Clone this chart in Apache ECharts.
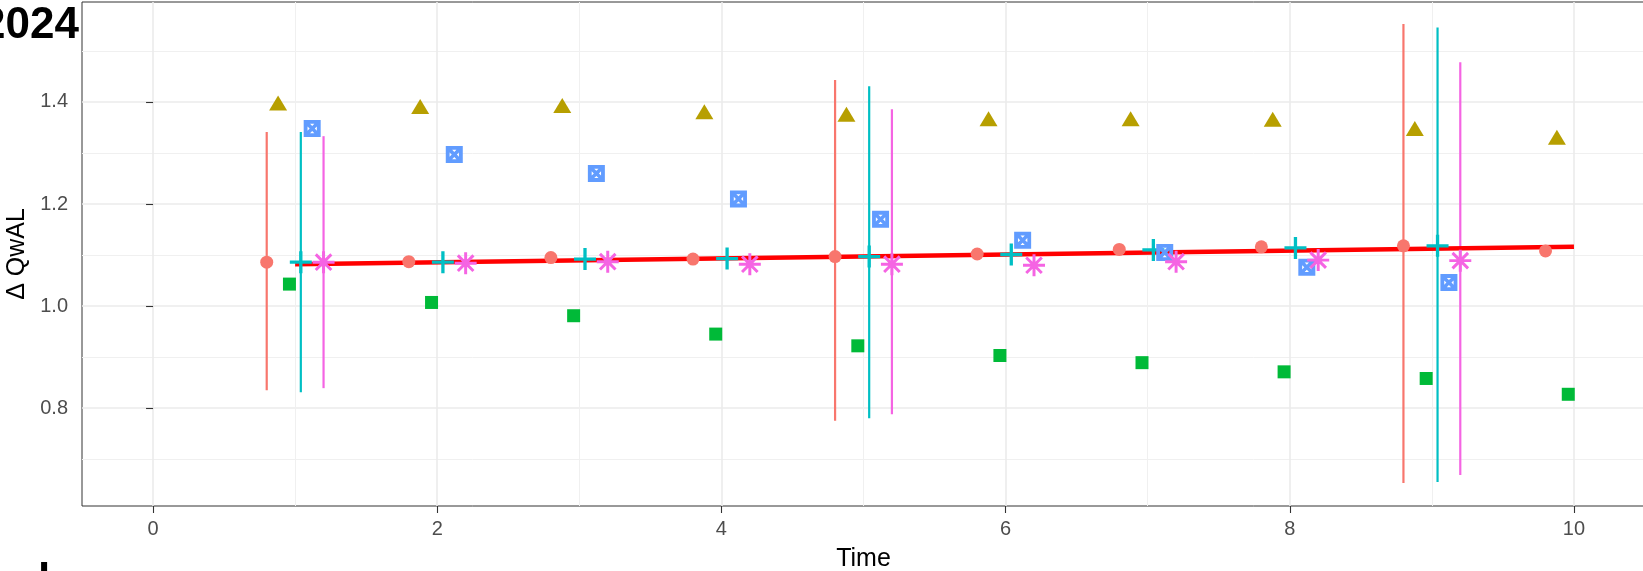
<!DOCTYPE html>
<html lang="en">
<head>
<meta charset="UTF-8">
<title>Δ QwAL over time</title>
<style>
  html, body { margin: 0; padding: 0; background: #fff; }
  #chart { width: 1643px; height: 571px; }
</style>
</head>
<body>
<div id="chart"></div>
<script src="https://cdn.jsdelivr.net/npm/echarts@6/dist/echarts.min.js"></script>
<script>
// time points
var times = [1, 2, 3, 4, 5, 6, 7, 8, 9, 10];
// six groups (null = not drawn)
var circleVals = [1.086, 1.087, 1.095, 1.092, 1.097, 1.102, 1.111, 1.116, 1.118, 1.108];
var triangleVals = [1.398, 1.391, 1.393, 1.381, 1.376, 1.367, 1.367, 1.366, 1.348, 1.331];
var squareVals = [1.043, 1.007, 0.981, 0.945, 0.922, 0.903, 0.889, 0.871, 0.858, 0.827];
var plusVals = [1.086, 1.086, 1.092, 1.093, 1.097, 1.101, 1.110, 1.114, 1.118, null];
var boxVals = [1.348, 1.297, 1.260, 1.210, 1.170, 1.129, 1.105, 1.076, 1.046, null];
var starVals = [1.086, 1.084, 1.087, 1.082, 1.082, 1.080, 1.087, 1.090, 1.089, null];

// error bars (only at some times)
var errTimes = [1, 5, 9];
var circleLow = [0.835, 0.775, 0.653];
var circleHigh = [1.341, 1.443, 1.553];
var plusLow = [0.831, 0.780, 0.655];
var plusHigh = [1.341, 1.431, 1.546];
var starLow = [0.839, 0.788, 0.669];
var starHigh = [1.333, 1.386, 1.478];

// fitted line
var fitTimes = [1, 10];
var fitVals = [1.082, 1.116];

// axis ticks
var xMajor = [0, 2, 4, 6, 8, 10];
var xMinor = [1, 3, 5, 7, 9];
var yMajor = [0.8, 1.0, 1.2, 1.4];
var yMinor = [0.7, 0.9, 1.1, 1.3, 1.5];

// dodge offsets per group
var dodge = [-0.2, -0.12, -0.04, 0.04, 0.12, 0.2];

// symbols
function bar(cx, cy, ang, L, w) {
    var dx = Math.cos(ang), dy = Math.sin(ang);
    var nx = -dy, ny = dx;
    var p = [
        [cx + L * dx + w * nx, cy + L * dy + w * ny],
        [cx + L * dx - w * nx, cy + L * dy - w * ny],
        [cx - L * dx - w * nx, cy - L * dy - w * ny],
        [cx - L * dx + w * nx, cy - L * dy + w * ny]
    ];
    return 'M' + p.map(function (q) { return q[0].toFixed(2) + ' ' + q[1].toFixed(2); }).join(' L') + ' Z';
}
var plusPath = 'path://' + bar(10, 10, 0, 10, 1.5) + ' ' + bar(10, 10, Math.PI / 2, 10, 1.5);
var starPath = 'path://' + [0, 45, 90, 135].map(function (a) {
    return bar(10, 10, a * Math.PI / 180, 10, 1.35);
}).join(' ');
// filled square with four small holes leaving a thick X
var boxPath = 'path://M0 0 L20 0 L20 20 L0 20 Z M7.5 4.5 L10 7 L12.5 4.5 Z M15.5 7.5 L13 10 L15.5 12.5 Z M12.5 15.5 L10 13 L7.5 15.5 Z M4.5 12.5 L7 10 L4.5 7.5 Z';

function pts(vals, k) {
    var out = [];
    times.forEach(function (t, i) {
        if (vals[i] != null) out.push([t + dodge[k], vals[i]]);
    });
    return out;
}
function bars(low, high, k) {
    return errTimes.map(function (t, i) { return [t + dodge[k], low[i], high[i]]; });
}

function errSeries(data, color) {
    return {
        type: 'custom',
        z: 2,
        data: data,
        renderItem: function (params, api) {
            var a = api.coord([api.value(0), api.value(1)]);
            var b = api.coord([api.value(0), api.value(2)]);
            return {
                type: 'line',
                shape: { x1: a[0], y1: a[1], x2: b[0], y2: b[1] },
                style: { stroke: color, lineWidth: 2.2 }
            };
        }
    };
}
function pointSeries(data, color, symbol, size) {
    return {
        type: 'scatter',
        z: 4,
        data: data,
        symbol: symbol,
        symbolSize: size,
        itemStyle: { color: color, opacity: 1 }
    };
}

var chart = echarts.init(document.getElementById('chart'));

var tickStyle = { color: '#333333', width: 1.1 };
var labelStyle = { color: '#4D4D4D', fontSize: 20, fontFamily: 'Liberation Sans, Arial, sans-serif' };

var option = {
    animation: false,
    backgroundColor: '#ffffff',
    grid: {
        left: 82, right: -2, top: 2, bottom: 65,
        outerBoundsMode: 'none',
        show: true, borderColor: '#333333', borderWidth: 1, backgroundColor: 'transparent'
    },
    xAxis: [{
        type: 'value', min: -0.5, max: 10.5, position: 'bottom',
        axisLine: { show: false },
        axisTick: { show: true, length: 7, lineStyle: tickStyle, customValues: xMajor },
        axisLabel: Object.assign({ margin: 13, customValues: xMajor }, labelStyle),
        splitLine: { show: true, lineStyle: { color: '#EBEBEB', width: 1.6 } },
        name: 'Time', nameLocation: 'middle', nameGap: 41,
        nameTextStyle: { fontSize: 25, color: '#000', fontFamily: 'Liberation Sans, Arial, sans-serif' }
    }, {
        type: 'value', min: -0.5, max: 10.5,
        axisLine: { show: false },
        axisTick: { show: false, customValues: xMinor },
        axisLabel: { show: false, customValues: xMinor },
        splitLine: { show: true, lineStyle: { color: '#F0F0F0', width: 1 } }
    }],
    yAxis: [{
        type: 'value', min: 0.608, max: 1.596, position: 'left',
        axisLine: { show: false },
        axisTick: { show: true, length: 7, lineStyle: tickStyle, customValues: yMajor },
        axisLabel: Object.assign({
            margin: 14, customValues: yMajor,
            formatter: function (v) { return v.toFixed(1); }
        }, labelStyle),
        splitLine: { show: true, lineStyle: { color: '#EBEBEB', width: 1.6 } },
        name: 'Δ QwAL', nameLocation: 'middle', nameGap: 50,
        nameTextStyle: { fontSize: 25, color: '#000', fontFamily: 'Liberation Sans, Arial, sans-serif' }
    }, {
        type: 'value', min: 0.608, max: 1.596,
        axisLine: { show: false },
        axisTick: { show: false, customValues: yMinor },
        axisLabel: { show: false, customValues: yMinor },
        splitLine: { show: true, lineStyle: { color: '#F0F0F0', width: 1 } }
    }],
    graphic: [{
        type: 'text', x: 79, y: 26, z: 10,
        style: {
            text: '2024', align: 'right', verticalAlign: 'middle', fill: '#000',
            font: 'bold 44px "Liberation Sans Narrow", "Liberation Sans", Arial, sans-serif'
        }
    }, {
        type: 'text', x: 38, y: 560, z: 10,
        style: {
            text: 'l', align: 'left', verticalAlign: 'top', fill: '#000',
            font: 'bold 44px "Liberation Sans", Arial, sans-serif'
        }
    }],
    series: [
        errSeries(bars(circleLow, circleHigh, 0), '#F8766D'),
        errSeries(bars(plusLow, plusHigh, 3), '#00BFC4'),
        errSeries(bars(starLow, starHigh, 5), '#F564E3'),
        {
            type: 'line', z: 3,
            data: fitTimes.map(function (t, i) { return [t, fitVals[i]]; }),
            showSymbol: false, symbol: 'none',
            lineStyle: { color: '#FF0000', width: 4.5 }
        },
        pointSeries(pts(circleVals, 0), '#F8766D', 'circle', 13),
        pointSeries(pts(triangleVals, 1), '#B79F00', 'triangle', [18, 15]),
        pointSeries(pts(squareVals, 2), '#00BA38', 'rect', 13),
        pointSeries(pts(plusVals, 3), '#00BFC4', plusPath, 22),
        pointSeries(pts(boxVals, 4), '#619CFF', boxPath, 17),
        pointSeries(pts(starVals, 5), '#F564E3', starPath, 22)
    ]
};
chart.setOption(option);
window.addEventListener('resize', chart.resize);
</script>
</body>
</html>
